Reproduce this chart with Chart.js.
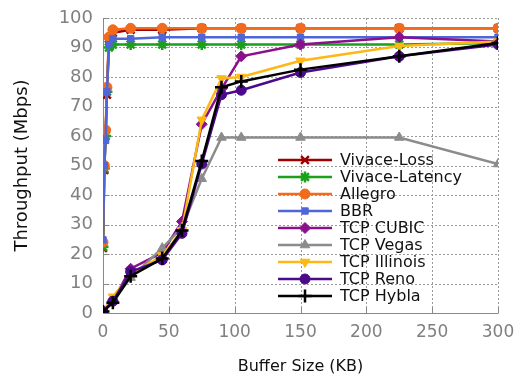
<!DOCTYPE html>
<html>
<head>
<meta charset="utf-8">
<script src="https://cdn.jsdelivr.net/npm/chart.js@4/dist/chart.umd.min.js"></script>
<style>
    html, body { margin: 0; padding: 0; background: #fff; }
    #wrap { width: 521px; height: 378px; }
</style>
</head>
<body>
<div id="wrap"><canvas id="chart" width="521" height="378"></canvas></div>
<script>
// buffer sizes (KB)
const fastBuffer = [0, 1, 2, 3, 4.5, 7.5, 21, 45, 75, 105, 150, 225, 300];
const tcpBuffer = [0, 7.5, 21, 45, 60, 75, 90, 105, 150, 225, 300];

// throughput (Mbps)
const vivaceLoss = [22, 48.5, 61, 74, 93, 95, 96, 96, 96.5, 96.5, 96.5, 96.5, 96.5];
const vivaceLatency = [22.5, 49, 60, 75, 90, 91, 91, 91, 91, 91, 91, 91, 91.5];
const allegro = [24, 50, 62, 76.5, 93.5, 96, 96.5, 96.5, 96.5, 96.5, 96.5, 96.5, 96.5];
const bbr = [24.8, 50, 58.5, 75, 91, 93, 93, 93.5, 93.5, 93.5, 93.5, 93.5, 93.5];
const tcpCubic = [0.5, 4, 15, 20.5, 31, 64, 76, 87, 91, 93.5, 92];
const tcpVegas = [0.5, 4, 12, 22, 29, 45.5, 59.5, 59.5, 59.5, 59.5, 50.5];
const tcpIllinois = [0.5, 5.5, 13, 19.5, 28, 65.5, 79.5, 80, 85.5, 90.5, 92];
const tcpReno = [0.5, 4, 14, 18, 27, 50.5, 74, 75.5, 81.5, 87, 91];
const tcpHybla = [0.5, 3.5, 12.5, 18.5, 28, 51.5, 76.5, 78.5, 82.5, 87, 91.5];

const xTicks = [0, 50, 100, 150, 200, 250, 300];
const yTicks = [0, 10, 20, 30, 40, 50, 60, 70, 80, 90, 100];

const FONT = "'DejaVu Sans', 'Liberation Sans', sans-serif";

function pts(xs, ys) {
    return ys.map((y, i) => ({ x: xs[i], y: y }));
}

function series(label, xs, ys, color, style, extra) {
    return Object.assign({
        label: label,
        data: pts(xs, ys),
        borderColor: color,
        backgroundColor: color,
        pointBackgroundColor: color,
        pointBorderColor: color,
        borderWidth: 2.5,
        pointStyle: style,
        pointRadius: 4.5,
        pointBorderWidth: 1,
        pointRotation: 0,
        tension: 0,
        fill: false
    }, extra || {});
}

const datasets = [
    series("Vivace-Loss", fastBuffer, vivaceLoss, "#a00000", "crossRot", { pointRadius: 5.5, pointBorderWidth: 2.5 }),
    series("Vivace-Latency", fastBuffer, vivaceLatency, "#1aa01a", "star", { pointRadius: 5.5, pointBorderWidth: 2.5 }),
    series("Allegro", fastBuffer, allegro, "#f26a1b", "circle", { pointRadius: 5 }),
    series("BBR", fastBuffer, bbr, "#4f66d8", "rect"),
    series("TCP CUBIC", tcpBuffer, tcpCubic, "#8b108b", "rectRot", { pointRadius: 5.5 }),
    series("TCP Vegas", tcpBuffer, tcpVegas, "#8c8c8c", "triangle", { pointRadius: 5.5 }),
    series("TCP Illinois", tcpBuffer, tcpIllinois, "#fdb813", "triangle", { pointRadius: 5.5, pointRotation: 180 }),
    series("TCP Reno", tcpBuffer, tcpReno, "#4b0a8a", "circle", { pointRadius: 5 }),
    series("TCP Hybla", tcpBuffer, tcpHybla, "#000000", "cross", { pointRadius: 6.5, pointBorderWidth: 2.5 })
];
// later series drawn on top, like gnuplot
datasets.forEach((d, i) => { d.order = datasets.length - i; });

// dotted grid, solid left/bottom border and small inward ticks
const frame = {
    id: "frame",
    beforeDatasetsDraw(chart) {
        const ctx = chart.ctx;
        const a = chart.chartArea;
        const xs = chart.scales.x, ys = chart.scales.y;
        ctx.save();
        ctx.strokeStyle = "#9a9a9a";
        ctx.lineWidth = 1;
        ctx.setLineDash([2, 2]);
        ctx.beginPath();
        xTicks.forEach(v => {
            const px = Math.round(xs.getPixelForValue(v)) + 0.5;
            ctx.moveTo(px, a.top);
            ctx.lineTo(px, a.bottom);
        });
        yTicks.forEach(v => {
            const py = Math.round(ys.getPixelForValue(v)) + 0.5;
            ctx.moveTo(a.left, py);
            ctx.lineTo(a.right, py);
        });
        ctx.stroke();

        ctx.setLineDash([]);
        ctx.strokeStyle = "#888";
        const l = Math.round(a.left) + 0.5, b = Math.round(a.bottom) + 0.5;
        ctx.beginPath();
        ctx.moveTo(l, a.top);
        ctx.lineTo(l, b);
        ctx.lineTo(a.right, b);
        xTicks.forEach(v => {
            const px = Math.round(xs.getPixelForValue(v)) + 0.5;
            ctx.moveTo(px, b);
            ctx.lineTo(px, b - 6);
        });
        yTicks.forEach(v => {
            const py = Math.round(ys.getPixelForValue(v)) + 0.5;
            ctx.moveTo(l, py);
            ctx.lineTo(l + 6, py);
        });
        ctx.stroke();
        ctx.restore();
    }
};

// legend inside the plot, like gnuplot's key
const insideKey = {
    id: "insideKey",
    afterDraw(chart) {
        const ctx = chart.ctx;
        const x0 = 278, x1 = 332, tx = 340;
        let y = 160;
        ctx.save();
        chart.data.datasets.forEach(d => {
            ctx.strokeStyle = d.borderColor;
            ctx.lineWidth = d.borderWidth;
            ctx.beginPath();
            ctx.moveTo(x0, y);
            ctx.lineTo(x1, y);
            ctx.stroke();
            ctx.fillStyle = d.pointBackgroundColor;
            ctx.strokeStyle = d.pointBorderColor;
            ctx.lineWidth = d.pointBorderWidth;
            Chart.helpers.drawPoint(ctx, {
                pointStyle: d.pointStyle,
                rotation: d.pointRotation,
                radius: d.pointRadius,
                borderWidth: d.pointBorderWidth
            }, (x0 + x1) / 2, y);
            ctx.fillStyle = "#111";
            ctx.font = "16px " + FONT;
            ctx.textBaseline = "middle";
            ctx.textAlign = "left";
            ctx.fillText(d.label, tx, y + 1);
            y += 17;
        });
        ctx.restore();
    }
};

const ctx = document.getElementById("chart").getContext("2d");
new Chart(ctx, {
    type: "line",
    data: { datasets: datasets },
    options: {
        responsive: false,
        animation: false,
        layout: { padding: { top: 18, right: 23, left: 0, bottom: 0 } },
        plugins: {
            legend: { display: false },
            tooltip: { enabled: false }
        },
        scales: {
            x: {
                type: "linear",
                min: 0,
                max: 300,
                afterBuildTicks: s => { s.ticks = xTicks.map(v => ({ value: v })); },
                afterFit: s => { s.height = 65; s.paddingLeft = 0; s.paddingRight = 0; },
                ticks: { color: "#808080", font: { family: FONT, size: 17 }, padding: 9, maxRotation: 0 },
                grid: { display: false, drawTicks: false },
                border: { display: false },
                title: { display: true, text: "Buffer Size (KB)", color: "#111", font: { family: FONT, size: 16 }, padding: { top: 0, bottom: 2 } }
            },
            y: {
                type: "linear",
                min: 0,
                max: 100,
                afterBuildTicks: s => { s.ticks = yTicks.map(v => ({ value: v })); },
                afterFit: s => { s.width = 103; s.paddingTop = 0; s.paddingBottom = 0; },
                ticks: { color: "#808080", font: { family: FONT, size: 18 }, padding: 10 },
                grid: { display: false, drawTicks: false },
                border: { display: false },
                title: { display: true, text: "Throughput (Mbps)", color: "#111", font: { family: FONT, size: 18 }, padding: { top: 12, bottom: 0 } }
            }
        }
    },
    plugins: [frame, insideKey]
});
</script>
</body>
</html>
